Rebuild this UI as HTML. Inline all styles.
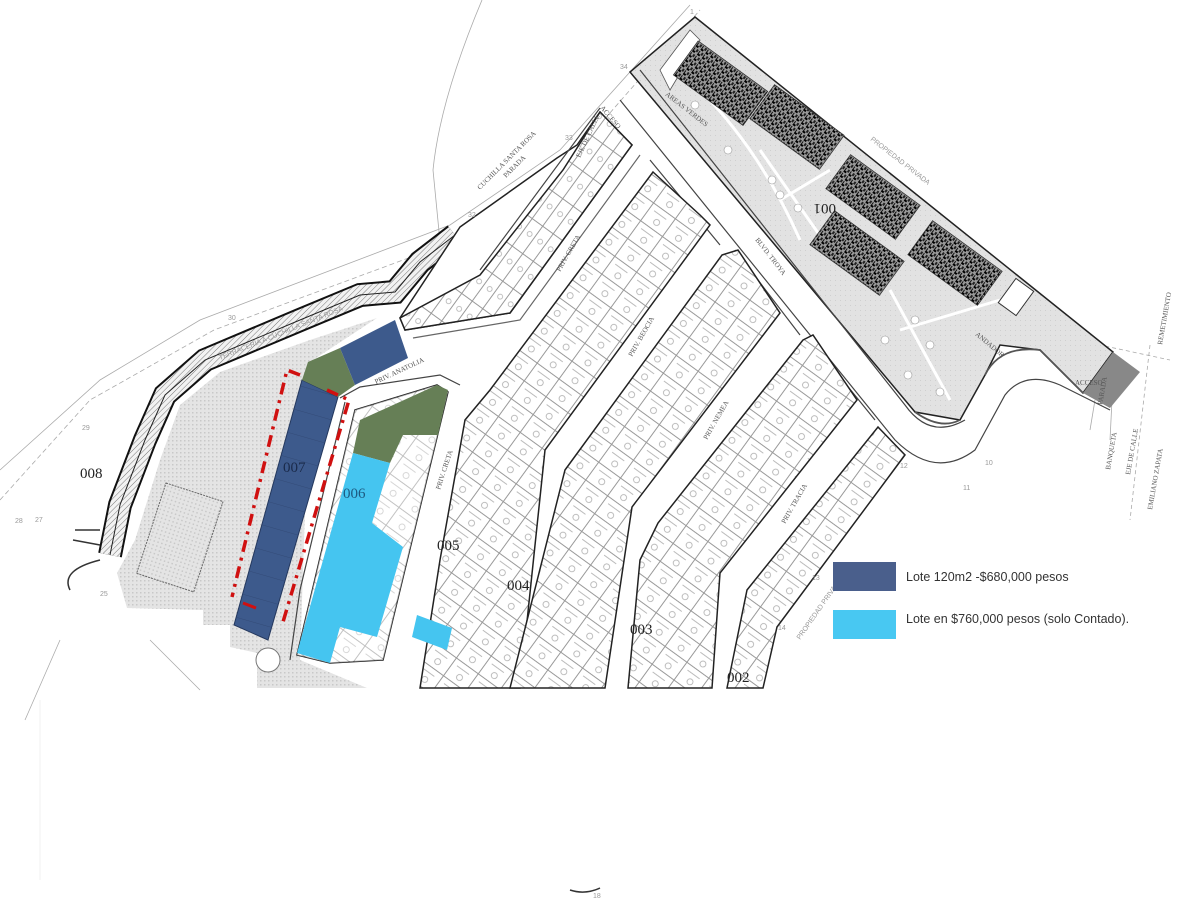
<!DOCTYPE html>
<html><head><meta charset="utf-8"><style>
html,body{margin:0;padding:0;background:#fff;}
svg{display:block;font-family:"Liberation Serif",serif;}
.lg{font-family:"Liberation Sans",sans-serif;font-size:12.5px;fill:#333;}
</style></head><body>
<svg width="1200" height="900" viewBox="0 0 1200 900" xmlns="http://www.w3.org/2000/svg">
<defs>
<pattern id="dots" width="4" height="4" patternUnits="userSpaceOnUse">
<rect width="4" height="4" fill="#e4e4e4"/><rect width="1.5" height="1.5" fill="#c8c8c8"/></pattern>
<pattern id="park" width="5" height="5" patternUnits="userSpaceOnUse">
<rect width="5" height="5" fill="#e2e2e2"/><rect width="1" height="1" fill="#cfcfcf"/></pattern>
<pattern id="hatch" width="4" height="4" patternUnits="userSpaceOnUse" patternTransform="rotate(45)">
<rect width="4" height="4" fill="#f2f2f2"/><line x1="0" y1="0" x2="0" y2="4" stroke="#777" stroke-width="1"/></pattern>
<pattern id="lots" width="27" height="22" patternUnits="userSpaceOnUse" patternTransform="rotate(36)">
<rect width="27" height="22" fill="#fff" stroke="#999" stroke-width="1"/>
<circle cx="14" cy="14" r="3" fill="none" stroke="#aaa" stroke-width="0.8"/>
<line x1="5" y1="6" x2="20" y2="6" stroke="#bbb" stroke-width="1"/></pattern>
<pattern id="lots2" width="34" height="13" patternUnits="userSpaceOnUse" patternTransform="rotate(-54)">
<rect width="34" height="13" fill="#fff" stroke="#999" stroke-width="1"/>
<circle cx="20" cy="7" r="2.5" fill="none" stroke="#aaa" stroke-width="0.7"/></pattern>
<pattern id="bld" width="6" height="6" patternUnits="userSpaceOnUse">
<rect width="6" height="6" fill="#999"/><rect width="3" height="2" fill="#000"/><rect x="3" y="3" width="2" height="3" fill="#222"/><rect x="0" y="3" width="1" height="3" fill="#111"/></pattern>
<pattern id="bluelots" width="40" height="24" patternUnits="userSpaceOnUse" patternTransform="rotate(16)">
<line x1="0" y1="0" x2="40" y2="0" stroke="#2e4570" stroke-width="0.8"/></pattern>
</defs>

<g fill="none" stroke="#aaa" stroke-width="0.8">
<path d="M482,0 Q440,100 433,170 L446,303"/>
<path d="M0,500 L90,400 L214,330 L449,243 L560,170 L700,10" stroke-dasharray="5,3"/>
<path d="M0,470 L100,380 L200,320 L450,225 L560,150 L690,5"/>
<path d="M25,720 L60,640" />
<path d="M150,640 L200,690"/>
<path d="M1030,330 L1170,360" stroke-dasharray="4,3"/>
<path d="M1150,345 L1130,520" stroke-dasharray="4,3"/>
<path d="M1095,400 L1090,430 M1112,400 L1110,440"/>
</g>

<polygon points="377,318 310,340 220,372 180,405 160,460 135,540 117,573 127,608 203,610 203,625 230,625 230,647 257,653 257,688 367,688 300,660 310,362" fill="url(#dots)"/>
<rect x="150" y="490" width="60" height="95" transform="rotate(18 180 537)" fill="url(#dots)" stroke="#666" stroke-width="1" stroke-dasharray="2,1"/>

<path d="M455,235 L420,262 L395,292 L360,295 L300,320 L205,360 L165,395 L145,440 L120,505 L110,555" fill="none" stroke="#111" stroke-width="24"/>
<path d="M455,235 L420,262 L395,292 L360,295 L300,320 L205,360 L165,395 L145,440 L120,505 L110,555" fill="none" stroke="url(#hatch)" stroke-width="20"/>
<path d="M455,235 L420,262 L395,292 L360,295 L300,320 L205,360 L165,395 L145,440 L120,505 L110,555" fill="none" stroke="#222" stroke-width="1"/>
<path d="M75,530 L100,530 M73,540 L100,545 M100,560 Q60,570 70,590" fill="none" stroke="#333" stroke-width="1.5"/>

<polygon points="460,227 557,158 577,145 600,112 632,145 510,313 405,330 400,318" fill="#fff" stroke="#222" stroke-width="1.5"/>
<polygon points="563,170 600,112 632,145 510,313 405,330 400,318 480,275" fill="url(#lots2)" stroke="#222" stroke-width="1.5"/>

<polygon points="695,17 1113,352 1083,393 1040,350 1000,345 985,375 960,420 915,412 630,72" fill="url(#park)" stroke="#222" stroke-width="1.5"/>
<polygon points="660,70 690,30 700,40 670,90" fill="#fff" stroke="#555" stroke-width="0.8"/>
<g fill="none" stroke="#fff" stroke-width="3">
<path d="M700,90 Q760,150 800,240"/><path d="M760,150 L830,250"/><path d="M890,290 L950,400"/><path d="M900,330 L1000,300"/><path d="M780,200 L830,170"/>
</g>
<g fill="#fff" stroke="#999" stroke-width="0.6">
<circle cx="695" cy="105" r="4"/><circle cx="728" cy="150" r="4"/><circle cx="772" cy="180" r="4"/><circle cx="780" cy="195" r="4"/><circle cx="798" cy="208" r="4"/>
<circle cx="915" cy="320" r="4"/><circle cx="885" cy="340" r="4"/><circle cx="908" cy="375" r="4"/><circle cx="930" cy="345" r="4"/><circle cx="940" cy="392" r="4"/>
</g>
<g fill="url(#bld)" stroke="#333" stroke-width="0.8">
<rect x="677" y="62" width="86" height="42" transform="rotate(36 720 84)"/>
<rect x="754" y="106" width="86" height="42" transform="rotate(36 797 127)"/>
<rect x="830" y="176" width="86" height="42" transform="rotate(36 873 197)"/>
<rect x="814" y="232" width="86" height="42" transform="rotate(36 857 253)"/>
<rect x="912" y="242" width="86" height="42" transform="rotate(36 955 263)"/>
</g>
<rect x="1005" y="282" width="22" height="30" transform="rotate(36 1016 297)" fill="#fff" stroke="#333"/>
<polygon points="1113,352 1140,372 1110,408 1083,393" fill="#888"/>

<g fill="none" stroke="#444" stroke-width="1.2">
<path d="M640,70 L905,405 Q930,440 965,420"/>
<path d="M620,100 L895,440 Q935,480 975,450 L1005,395 Q1025,370 1060,385 L1110,410"/>
<path d="M600,108 L480,270"/>
<path d="M650,160 L720,245 M735,250 L800,335 M810,340 L875,420"/>
<path d="M413,338 L520,320 L640,155" stroke="#666"/>
<path d="M340,398 L360,387 L440,375 L460,385"/>
<path d="M345,402 L300,590 L290,660"/>
</g>
<g fill="none" stroke="#555" stroke-width="1.8">
<path d="M985,375 Q1000,345 1040,350 L1083,393"/>
<path d="M915,412 Q940,430 960,420"/>
</g>
<circle cx="268" cy="660" r="12" fill="#fff" stroke="#777"/>

<polygon points="653,172 700,215 710,225 545,450 520,688 420,688 440,560 465,420 490,390" fill="url(#lots)" stroke="#222" stroke-width="1.5"/>
<polygon points="722,255 738,250 780,313 632,507 605,688 510,688 565,470" fill="url(#lots)" stroke="#222" stroke-width="1.5"/>
<polygon points="803,340 813,335 857,400 720,573 712,688 628,688 640,560 658,523" fill="url(#lots)" stroke="#222" stroke-width="1.5"/>
<polygon points="878,427 905,455 777,627 763,688 727,688 747,590" fill="url(#lots)" stroke="#222" stroke-width="1.5"/>

<polygon points="355,410 437,385 448,392 383,660 330,663 297,655" fill="#fff" stroke="#222" stroke-width="1.5"/>
<polygon points="355,410 437,385 448,392 383,660 330,663 297,655" fill="url(#lots)" opacity="0.6"/>
<polygon points="302,380 338,397 268,640 234,625" fill="#3d5a8c" stroke="#24385e" stroke-width="1"/>
<polygon points="302,380 338,397 268,640 234,625" fill="url(#bluelots)"/>
<polygon points="308,362 340,348 355,385 338,397 302,380" fill="#667f56"/>
<polygon points="340,348 395,320 408,358 355,385" fill="#3d5a8c"/>
<polygon points="360,420 437,385 448,390 438,435 403,435 390,463 353,453" fill="#667f56"/>
<polygon points="353,453 390,463 372,523 403,547 377,637 340,627 330,663 297,653" fill="#45c5f0"/>
<polygon points="417,615 452,628 447,650 412,637" fill="#45c5f0"/>

<g fill="none" stroke="#d01010" stroke-width="3.5" stroke-dasharray="12,6,3,6">
<path d="M300,375 L287,370 L232,597"/>
<path d="M327,390 L349,400 L283,622"/>
</g>
<path d="M243,603 L256,608" stroke="#d01010" stroke-width="3"/>

<g fill="#222" font-size="15">
<text x="80" y="478">008</text><text x="283" y="472" fill="#1a2a4a">007</text>
<text x="343" y="498" fill="#1d5a80">006</text><text x="437" y="550">005</text>
<text x="507" y="590">004</text><text x="630" y="634">003</text><text x="727" y="682">002</text>
<text x="816" y="214" transform="rotate(180 826 209)">001</text>
</g>
<g fill="#555" font-size="7">
<text transform="translate(376,384) rotate(-25)">PRIV. ANATOLIA</text>
<text transform="translate(440,490) rotate(-72)">PRIV. CRETA</text>
<text transform="translate(560,272) rotate(-60)">PRIV. CRETA</text>
<text transform="translate(632,357) rotate(-60)">PRIV. BEOCIA</text>
<text transform="translate(707,440) rotate(-60)">PRIV. NEMEA</text>
<text transform="translate(785,524) rotate(-60)">PRIV. TRACIA</text>
<text transform="translate(755,240) rotate(52)">BLVD. TROYA</text>
<text transform="translate(600,108) rotate(50)">ACCESO</text>
<text transform="translate(480,190) rotate(-45)">CUCHILLA SANTA ROSA</text>
<text transform="translate(506,178) rotate(-45)">PARADA</text>
<text transform="translate(580,158) rotate(-65)">EJE DE CALLE</text>
<text transform="translate(665,95) rotate(38)">AREAS VERDES</text>
<text transform="translate(975,335) rotate(40)">ANDADOR</text>
<text transform="translate(1075,385)">ACCESO</text>
<text transform="translate(1102,405) rotate(-80)">PARADA</text>
<text transform="translate(1110,470) rotate(-80)">BANQUETA</text>
<text transform="translate(1130,475) rotate(-80)">EJE DE CALLE</text>
<text transform="translate(1152,510) rotate(-80)">EMILIANO ZAPATA</text>
<text transform="translate(1162,345) rotate(-80)">REMETIMIENTO</text>
</g>
<g fill="#999" font-family="Liberation Sans,sans-serif" font-size="7">
<text transform="translate(220,360) rotate(-22)">TERRACERIA A CUCHILLA SANTA ROSA</text>
<text transform="translate(870,140) rotate(38)">PROPIEDAD PRIVADA</text>
<text transform="translate(800,640) rotate(-55)">PROPIEDAD PRIVADA</text>
<text x="228" y="320">30</text><text x="82" y="430">29</text><text x="15" y="523">28</text><text x="35" y="522">27</text><text x="100" y="596">25</text>
<text x="468" y="217">32</text><text x="565" y="140">33</text><text x="620" y="69">34</text><text x="690" y="14">1</text>
<text x="900" y="468">12</text><text x="812" y="580">13</text><text x="778" y="630">14</text><text x="985" y="465">10</text><text x="963" y="490">11</text>
<text x="593" y="898">18</text>
</g>
<path d="M570,890 Q585,895 600,888" stroke="#333" stroke-width="1.5" fill="none"/>
<line x1="40" y1="700" x2="40" y2="880" stroke="#f2f2f2"/>

<rect x="833" y="562" width="63" height="29" fill="#4a5f8c"/>
<rect x="833" y="610" width="63" height="29" fill="#48c8f2"/>
<text class="lg" x="906" y="581">Lote 120m2 -$680,000 pesos</text>
<text class="lg" x="906" y="623">Lote en $760,000 pesos (solo Contado).</text>
</svg>
</body></html>
